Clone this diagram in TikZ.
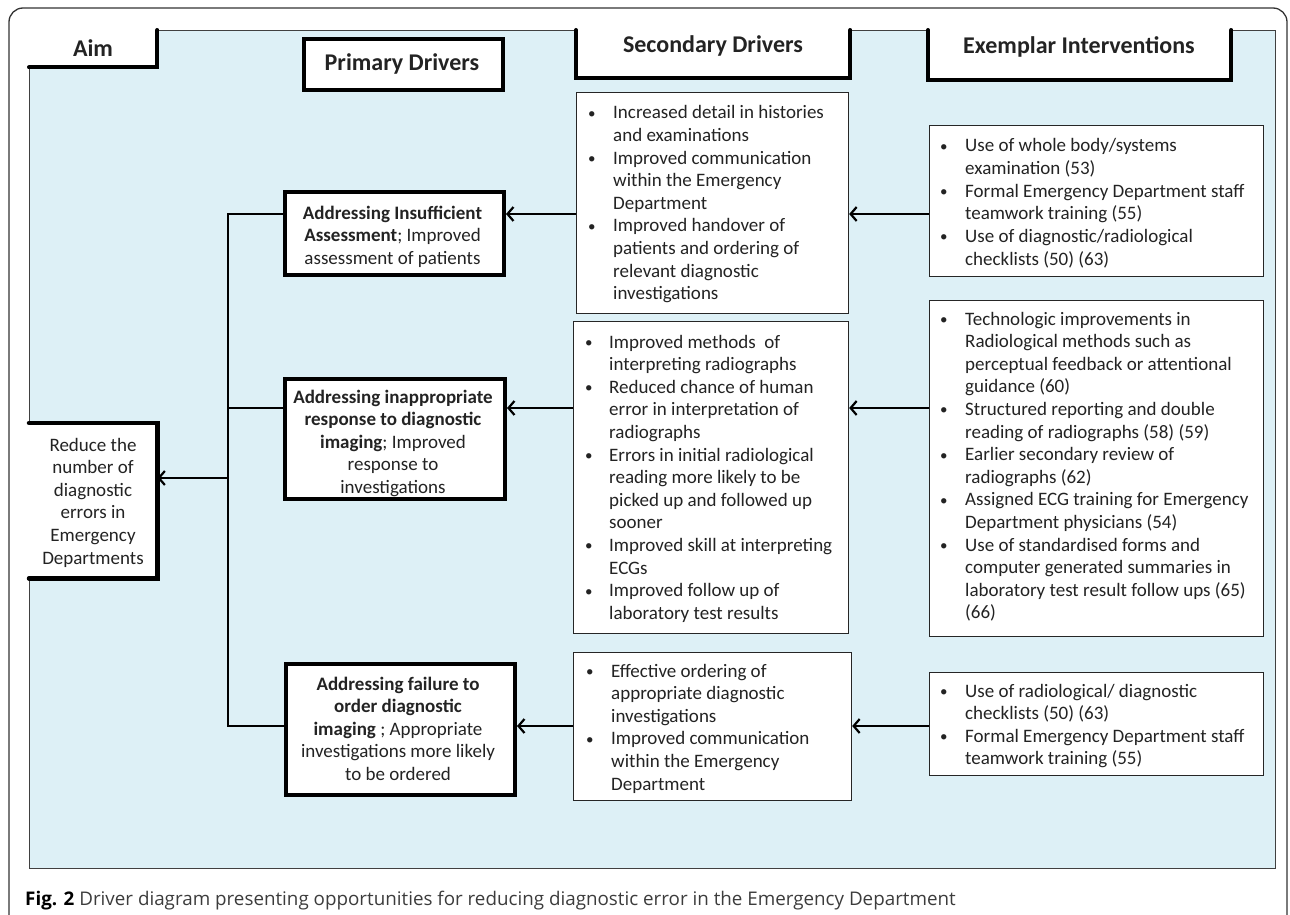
\documentclass[tikz,border=0pt]{standalone}
\usepackage{fontspec}
\setmainfont{Carlito}
\newfontfamily\capfont{Open Sans}
\usetikzlibrary{arrows.meta}
\definecolor{bgblue}{RGB}{221,240,246}
\definecolor{txt}{RGB}{35,35,35}
\definecolor{capgray}{RGB}{60,60,60}
\newcommand{\bl}{\raisebox{0.5pt}{\fontsize{15}{15}\selectfont\textbullet}}
\begin{document}
\begin{tikzpicture}[x=1pt,y=-1pt,
  thickbox/.style={draw=black,line width=4pt,fill=white,anchor=north west,inner sep=0pt},
  thinbox/.style={draw=black!85,line width=1.2pt,fill=white,anchor=north west,inner sep=0pt},
  conn/.style={line width=2.6pt,black},
  arr/.style={conn,-{Straight Barb[length=6pt,width=14pt,line width=2.2pt]}},
  tx/.style={font=\fontsize{19}{22.6}\selectfont,text=txt,inner sep=0pt},
  hd/.style={font=\fontsize{24}{28}\selectfont\bfseries,text=txt,inner sep=0pt,anchor=base},
]
\useasboundingbox (0,0) rectangle (1290,915);
% outer frame
\begin{scope}
\clip (0,0) rectangle (1290,915);
\draw[black!80,line width=1.3pt,rounded corners=14pt] (9,8) rectangle (1287,935);
\end{scope}
% blue area
\node[draw=black!75,line width=1pt,fill=bgblue,anchor=north west,minimum width=1246,minimum height=838,inner sep=0pt] (bg) at (29,30) {};

% header boxes
\node[fill=white,anchor=north west,minimum width=128,minimum height=37,inner sep=0pt] (hAim) at (29,30) {};
\draw[line width=4pt,line cap=round] (hAim.south west) -- (hAim.south east) -- (hAim.north east);
\node[hd] (tAim) at (93,57) {Aim};

\node[thickbox,minimum width=199,minimum height=51] (hPri) at (302,37) {};
\node[hd] (tPri) at (402,71) {Primary Drivers};

\node[fill=white,anchor=north west,minimum width=274,minimum height=48,inner sep=0pt] (hSec) at (576,30) {};
\draw[line width=4pt,line cap=round] (hSec.north west) -- (hSec.south west) -- (hSec.south east) -- (hSec.north east);
\node[hd] (tSec) at (713,53) {Secondary Drivers};

\node[fill=white,anchor=north west,minimum width=303,minimum height=50,inner sep=0pt] (hEx) at (928,30) {};
\draw[line width=4pt,line cap=round] (hEx.north west) -- (hEx.south west) -- (hEx.south east) -- (hEx.north east);
\node[hd] (tEx) at (1079,54) {Exemplar Interventions};

% aim box
\node[fill=white,anchor=north west,minimum width=128,minimum height=155,inner sep=0pt] (aim) at (29,423) {};
\draw[line width=4.5pt,line cap=round] (aim.north west) -- (aim.north east) -- (aim.south east) -- (aim.south west);
\node[tx,anchor=base] (tAim2) at (93,451) {\begin{tabular}[t]{@{}c@{}}Reduce the\\number of\\diagnostic\\errors in\\Emergency\\Departments\end{tabular}};

% primary boxes
\node[thickbox,minimum width=219,minimum height=83] (p1) at (283,190) {};
\node[tx,anchor=base] (tp1) at (392.5,219) {\begin{tabular}[t]{@{}c@{}}\textbf{Addressing Insufficient}\\\textbf{Assessment}; Improved\\assessment of patients\end{tabular}};
\node[thickbox,minimum width=220,minimum height=120] (p2) at (283,377) {};
\node[tx,anchor=base] (tp2) at (393,403) {\begin{tabular}[t]{@{}c@{}}\textbf{Addressing inappropriate}\\\textbf{response to diagnostic}\\\textbf{imaging}; Improved\\response to\\investigations\end{tabular}};
\node[thickbox,minimum width=229,minimum height=131] (p3) at (284,662) {};
\node[tx,anchor=base] (tp3) at (398,690) {\begin{tabular}[t]{@{}c@{}}\textbf{Addressing failure to}\\\textbf{order diagnostic}\\\textbf{imaging} ; Appropriate\\investigations more likely\\to be ordered\end{tabular}};

% secondary boxes
\node[thinbox,minimum width=272,minimum height=221] (s1) at (576,92) {};
\node[tx,anchor=base west] (ts1) at (588,119) {\begin{tabular}[t]{@{}p{25pt}@{}l@{}}\bl & Increased detail in histories\\ & and examinations\\ \bl & Improved communication\\ & within the Emergency\\ & Department\\ \bl & Improved handover of\\ & patients and ordering of\\ & relevant diagnostic\\ & investigations\end{tabular}};
\node[thinbox,minimum width=275,minimum height=312] (s2) at (573,321) {};
\node[tx,anchor=base west] (ts2) at (585,348) {\begin{tabular}[t]{@{}p{24pt}@{}l@{}}\bl & Improved methods\ \ of\\ & interpreting radiographs\\ \bl & Reduced chance of human\\ & error in interpretation of\\ & radiographs\\ \bl & Errors in initial radiological\\ & reading more likely to be\\ & picked up and followed up\\ & sooner\\ \bl & Improved skill at interpreting\\ & ECGs\\ \bl & Improved follow up of\\ & laboratory test results\end{tabular}};
\node[thinbox,minimum width=278,minimum height=148] (s3) at (573,652) {};
\node[tx,anchor=base west] (ts3) at (586,677) {\begin{tabular}[t]{@{}p{25pt}@{}l@{}}\bl & Effective ordering of\\ & appropriate diagnostic\\ & investigations\\ \bl & Improved communication\\ & within the Emergency\\ & Department\end{tabular}};

% exemplar boxes
\node[thinbox,minimum width=334,minimum height=151] (e1) at (929,125) {};
\node[tx,anchor=base west] (te1) at (940,152) {\begin{tabular}[t]{@{}p{25pt}@{}l@{}}\bl & Use of whole body/systems\\ & examination (53)\\ \bl & Formal Emergency Department staff\\ & teamwork training (55)\\ \bl & Use of diagnostic/radiological\\ & checklists (50) (63)\end{tabular}};
\node[thinbox,minimum width=334,minimum height=336] (e2) at (929,300) {};
\node[tx,anchor=base west] (te2) at (940,325) {\begin{tabular}[t]{@{}p{25pt}@{}l@{}}\bl & Technologic improvements in\\ & Radiological methods such as\\ & perceptual feedback or attentional\\ & guidance (60)\\ \bl & Structured reporting and double\\ & reading of radiographs (58) (59)\\ \bl & Earlier secondary review of\\ & radiographs (62)\\ \bl & Assigned ECG training for Emergency\\ & Department physicians (54)\\ \bl & Use of standardised forms and\\ & computer generated summaries in\\ & laboratory test result follow ups (65)\\ & (66)\end{tabular}};
\node[thinbox,minimum width=334,minimum height=103] (e3) at (929,672) {};
\node[tx,anchor=base west] (te3) at (940,697) {\begin{tabular}[t]{@{}p{25pt}@{}l@{}}\bl & Use of radiological/ diagnostic\\ & checklists (50) (63)\\ \bl & Formal Emergency Department staff\\ & teamwork training (55)\end{tabular}};

% connectors
\coordinate (r1) at (0,214);
\coordinate (r2) at (0,408);
\coordinate (r3) at (0,726);
\coordinate (ra) at (0,478);
\coordinate (vt) at (228,214);
\coordinate (vb) at (228,726);
\draw[conn,line cap=rect] (p1.west |- r1) -- (vt) -- (vb) -- (p3.west |- r3);
\draw[conn] (vt |- r2) -- (p2.west |- r2);
\draw[arr] (vt |- ra) -- (aim.east |- ra);
\draw[arr] (s1.west |- r1) -- (p1.east |- r1);
\draw[arr] (s2.west |- r2) -- (p2.east |- r2);
\draw[arr] (s3.west |- r3) -- (p3.east |- r3);
\draw[arr] (e1.west |- r1) -- (s1.east |- r1);
\draw[arr] (e2.west |- r2) -- (s2.east |- r2);
\draw[arr] (e3.west |- r3) -- (s3.east |- r3);

% caption
\node[anchor=base west,inner sep=0pt,font=\capfont\fontsize{18.8}{22}\selectfont,text=capgray] (cap) at (25,905) {\textbf{\color{black}Fig. 2} Driver diagram presenting opportunities for reducing diagnostic error in the Emergency Department};
\end{tikzpicture}
\end{document}
